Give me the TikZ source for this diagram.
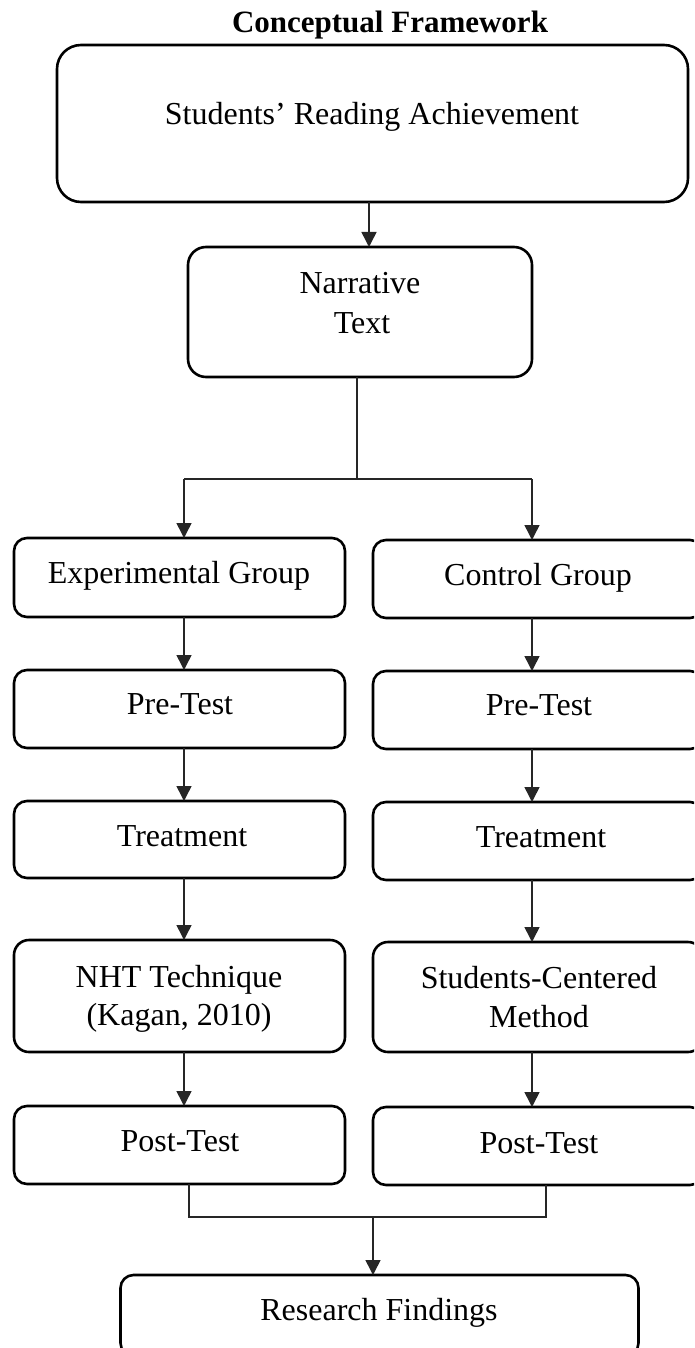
\documentclass[tikz,border=0pt]{standalone}
\usepackage{fontspec}
\setmainfont{Liberation Serif}
\usetikzlibrary{arrows.meta,calc}
\begin{document}
\begin{tikzpicture}[x=1pt,y=-1pt,
  box/.style={draw=black,line width=2.6pt,rounded corners=13pt,minimum width=331pt,inner sep=0pt,outer sep=0pt},
  rbox/.style={box,minimum width=330pt},
  lbl/.style={anchor=base,inner sep=0pt,font=\fontsize{32}{40}\selectfont},
  ln/.style={draw=black!85,line width=1.5pt},
  arr/.style={ln,-{Triangle[length=15pt,width=15pt]}}]
\useasboundingbox (0,0) rectangle (694,1348);
\clip (0,0) rectangle (694,1348);

% boxes
\node[box,rounded corners=24pt,minimum width=631pt,minimum height=157pt] (top) at (372.5,123.5) {};
\node[box,rounded corners=18pt,minimum width=344pt,minimum height=130pt] (narr) at (360,312) {};
\node[box,minimum height=79pt] (L1) at (179.5,577.5) {};
\node[rbox,minimum height=78pt] (R1) at (538,579) {};
\node[box,minimum height=78pt] (L2) at (179.5,709) {};
\node[rbox,minimum height=78pt] (R2) at (538,710) {};
\node[box,minimum height=77pt] (L3) at (179.5,839.5) {};
\node[rbox,minimum height=78pt] (R3) at (538,841) {};
\node[box,rounded corners=15pt,minimum height=112pt] (L4) at (179.5,996) {};
\node[rbox,rounded corners=15pt,minimum height=110pt] (R4) at (538,997) {};
\node[box,minimum height=78pt] (L5) at (179.5,1145) {};
\node[rbox,minimum height=78pt] (R5) at (538,1146) {};
\node[box,minimum width=518pt,minimum height=81pt] (RF) at (379.5,1315.5) {};

% texts
\node[lbl,font=\fontsize{31}{40}\selectfont\bfseries] (title) at (390,33) {Conceptual Framework};
\node[lbl] (ttop) at (372,125) {Students’ Reading Achievement};
\node[lbl] (tn1) at (360,293) {Narrative};
\node[lbl] (tn2) at (362,333) {Text};
\node[lbl] (tL1) at (179,583) {Experimental Group};
\node[lbl] (tR1) at (538,585) {Control Group};
\node[lbl] (tL2) at (180,714) {Pre-Test};
\node[lbl] (tR2) at (539,715) {Pre-Test};
\node[lbl] (tL3) at (182,846) {Treatment};
\node[lbl] (tR3) at (541,847) {Treatment};
\node[lbl] (tL4a) at (179,987) {NHT Technique};
\node[lbl] (tL4b) at (179,1025) {(Kagan, 2010)};
\node[lbl] (tR4a) at (539,988) {Students-Centered};
\node[lbl] (tR4b) at (539,1027) {Method};
\node[lbl] (tL5) at (180,1151) {Post-Test};
\node[lbl] (tR5) at (539,1153) {Post-Test};
\node[lbl] (tRF) at (379,1320) {Research Findings};

% connectors
\coordinate (axL) at (184,0);
\coordinate (axR) at (532,0);
\coordinate (br) at (357,479);
\coordinate (mL) at (189,1217);
\coordinate (mR) at (546,1217);
\coordinate (mg) at (373,1217);

\draw[arr] ([xshift=-3.5pt]top.south) -- ([xshift=-3.5pt]top.south |- narr.north);
\draw[ln] (narr.south -| br) -- (br);
\draw[ln] (br -| axL) -- (br -| axR);
\draw[arr] (br -| axL) -- (L1.north -| axL);
\draw[arr] (br -| axR) -- (R1.north -| axR);
\draw[arr] (L1.south -| axL) -- (L2.north -| axL);
\draw[arr] (L2.south -| axL) -- (L3.north -| axL);
\draw[arr] (L3.south -| axL) -- (L4.north -| axL);
\draw[arr] (L4.south -| axL) -- (L5.north -| axL);
\draw[arr] (R1.south -| axR) -- (R2.north -| axR);
\draw[arr] (R2.south -| axR) -- (R3.north -| axR);
\draw[arr] (R3.south -| axR) -- (R4.north -| axR);
\draw[arr] (R4.south -| axR) -- (R5.north -| axR);
\draw[ln] (L5.south -| mL) -- (mL) -- (mR) -- (R5.south -| mR);
\draw[arr] (mg) -- (RF.north -| mg);
\end{tikzpicture}
\end{document}
